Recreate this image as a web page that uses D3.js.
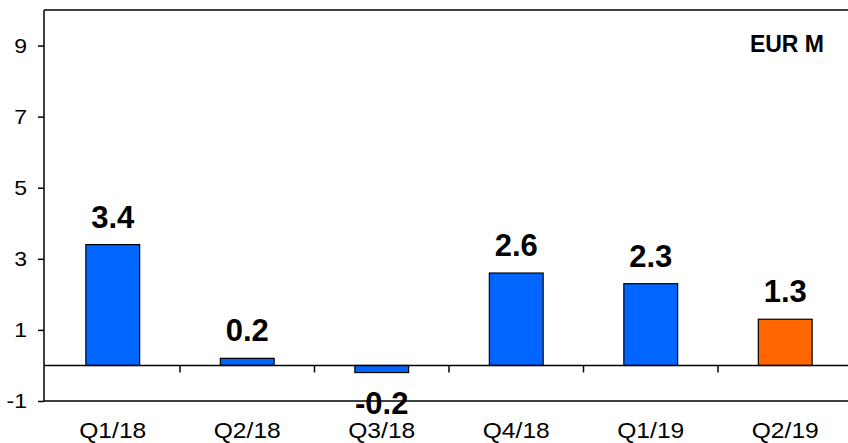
<!DOCTYPE html>
<html><head><meta charset="utf-8">
<script src="https://cdn.jsdelivr.net/npm/d3@7"></script>
<style>body{margin:0;background:#fff;} svg{display:block;}</style>
</head><body>
<script>
const categories = ["Q1/18","Q2/18","Q3/18","Q4/18","Q1/19","Q2/19"];
const values = [3.4, 0.2, -0.2, 2.6, 2.3, 1.3];
const barColors = ["#0066ff","#0066ff","#0066ff","#0066ff","#0066ff","#ff6600"];
const yTicks = [-1, 1, 3, 5, 7, 9];
const unitLabel = "EUR M";

(function () {
const W = 848, H = 443;
const svg = d3.select("body").append("svg").attr("width", W).attr("height", H);
const pLeft = 44, pTop = 10, pBottom = 401;
const x = d3.scaleBand().domain(categories).range([45.5, 852.5]).paddingInner(0.6).paddingOuter(0.3);
const y = d3.scaleLinear().domain([-1, 10]).range([pBottom, pTop]);
const font = "Liberation Sans, Arial, Helvetica, sans-serif";

// frame
svg.append("line").attr("x1", pLeft).attr("x2", W).attr("y1", pTop).attr("y2", pTop).attr("stroke", "#000").attr("stroke-width", 1.5);
svg.append("line").attr("x1", pLeft).attr("x2", W).attr("y1", pBottom).attr("y2", pBottom).attr("stroke", "#000").attr("stroke-width", 1.5);

// y axis (lines via d3 axis, labels drawn separately)
const yAxis = d3.axisLeft(y).tickValues(yTicks).tickSize(6).tickFormat("");
const gy = svg.append("g").attr("transform", `translate(${pLeft},0)`).call(yAxis);
gy.select(".domain").attr("d", `M0,${pTop}V${pBottom}`).attr("stroke-width", 1.5);
gy.selectAll(".tick line").attr("stroke-width", 1.5);
svg.append("g").selectAll("text").data(yTicks).join("text")
  .attr("transform", d => `translate(27,${y(d) + 7}) scale(1.15,1)`)
  .attr("text-anchor", "end").attr("font-family", font).attr("font-size", 20).attr("fill", "#000")
  .text(d => String(d));

// bars
svg.append("g").selectAll("rect").data(values).join("rect")
  .attr("x", (d, i) => x(categories[i]))
  .attr("width", x.bandwidth())
  .attr("y", d => y(Math.max(0, d)))
  .attr("height", d => Math.abs(y(d) - y(0)))
  .attr("fill", (d, i) => barColors[i])
  .attr("stroke", "#000").attr("stroke-width", 1.2);

// zero line with category ticks
const step = x.step();
svg.append("line").attr("x1", pLeft).attr("x2", W).attr("y1", y(0)).attr("y2", y(0)).attr("stroke", "#000").attr("stroke-width", 1.5);
const sep = d3.range(1, categories.length).map(i => x(categories[i]) - x.paddingInner() * step / 2);
svg.append("g").selectAll("line").data(sep).join("line")
  .attr("x1", d => d).attr("x2", d => d).attr("y1", y(0)).attr("y2", y(0) + 7)
  .attr("stroke", "#000").attr("stroke-width", 1.5);

// category labels
svg.append("g").selectAll("text").data(categories).join("text")
  .attr("transform", d => `translate(${x(d) + x.bandwidth() / 2},438) scale(1.12,1)`)
  .attr("text-anchor", "middle").attr("font-family", font).attr("font-size", 22).attr("fill", "#000")
  .text(d => d);

// value labels
svg.append("g").selectAll("text").data(values).join("text")
  .attr("x", (d, i) => x(categories[i]) + x.bandwidth() / 2)
  .attr("y", d => d >= 0 ? y(d) - 17 : y(d) + 41)
  .attr("text-anchor", "middle").attr("font-family", font).attr("font-weight", "bold").attr("font-size", 31).attr("fill", "#000")
  .text(d => d.toFixed(1));

// unit label
svg.append("text").attr("x", 824).attr("y", 52).attr("text-anchor", "end")
  .attr("font-family", font).attr("font-weight", "bold").attr("font-size", 23).attr("fill", "#000")
  .text(unitLabel);
})();
</script>
</body></html>
